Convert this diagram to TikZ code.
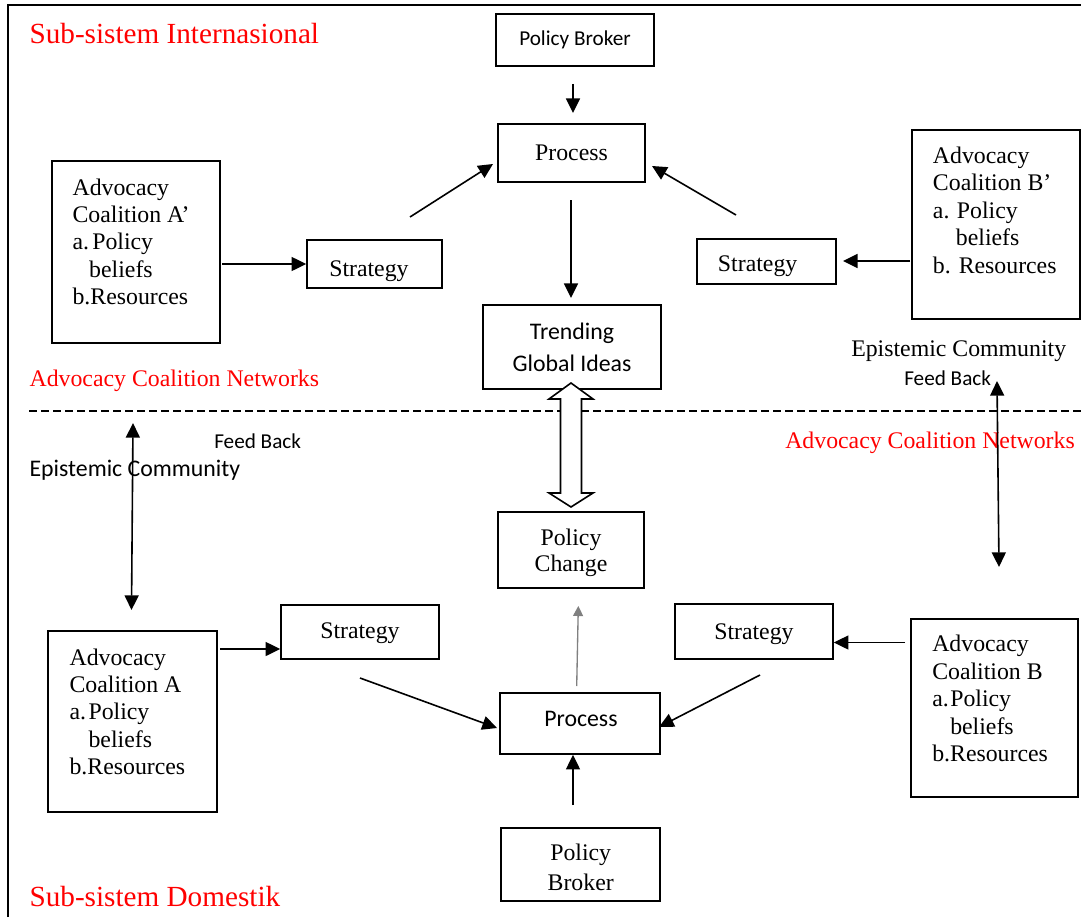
\documentclass[tikz,border=0pt]{standalone}
\usepackage{fontspec}
\setmainfont{Liberation Serif}
\newfontfamily\calib{Carlito}
\usetikzlibrary{arrows.meta}
\begin{document}
\begin{tikzpicture}[x=0.75pt,y=-0.75pt,
  box/.style={draw, line width=1.2pt, inner sep=0pt, align=center},
  sz/.style 2 args={minimum width=#1*0.75pt, minimum height=#2*0.75pt},
  body/.style={font=\fontsize{17.85pt}{20.6pt}\selectfont},
  cbody/.style={font=\calib\fontsize{17.85pt}{23.8pt}\selectfont},
  csmall/.style={font=\calib\fontsize{15.9pt}{19pt}\selectfont},
  txt/.style={anchor=base west, inner sep=0pt},
  ctxt/.style={anchor=base, inner sep=0pt},
  redhead/.style={txt, text=red, font=\fontsize{21.9pt}{26pt}\selectfont},
  redsub/.style={txt, text=red, font=\fontsize{17.85pt}{20.6pt}\selectfont},
  list/.style={txt, font=\fontsize{17.85pt}{20.6pt}\selectfont},
  arr/.style={-{Triangle[length=11pt,width=10.5pt]}, line width=1.2pt},
  darr/.style={{Triangle[length=11pt,width=10.5pt]}-{Triangle[length=11pt,width=10.5pt]}, line width=1.2pt},
  garr/.style={-{Triangle[length=7.5pt,width=7.5pt]}, line width=1pt, draw=gray, color=gray},
]
\useasboundingbox (0,0) rectangle (1081,917);
% frame
\draw[line width=2.2pt] (8,917) -- (8,5) -- (1081,5);
% dashed separator
\draw[line width=1.2pt, dash pattern=on 6pt off 3pt] (29,411) -- (1081,411);

% red headings
\node[redhead] (hInt) at (29.3,43.3) {Sub-sistem Internasional};
\node[redhead] (hDom) at (29.3,906.7) {Sub-sistem Domestik};
\node[redsub] (acnL) at (29.3,386) {Advocacy Coalition Networks};
\node[redsub] (acnR) at (785,448.3) {Advocacy Coalition Networks};

% other free texts
\node[list] (ecR) at (851,356.7) {Epistemic Community};
\node[txt, csmall] (fbR) at (904,385) {Feed Back};
\node[txt, csmall] (fbL) at (214,448.3) {Feed Back};
\node[txt, cbody] (ecL) at (29.3,476.7) {Epistemic Community};

% boxes - upper
\node[box, sz={158}{52}, csmall] (pbT) at (575,40) {Policy Broker};
\node[box, sz={147}{58}, body] (prT) at (571.5,153) {Process};
\node[box, sz={168}{182}] (acAp) at (136,252) {};
\node[box, sz={135}{48}] (sTL) at (374.5,264) {};
\node[box, sz={139}{45}] (sTR) at (766.5,261.5) {};
\node[box, sz={168}{189}] (acBp) at (996,224.5) {};
\node[box, sz={178}{84}, cbody] (tgi) at (572,347) {Trending\\Global Ideas};
% boxes - lower
\node[box, sz={146}{76}] (pc) at (571,550) {};
\node[box, sz={158}{54}] (sBL) at (360,632) {};
\node[box, sz={158}{55}] (sBR) at (754,631.5) {};
\node[box, sz={169}{181}] (acA) at (132.5,721.5) {};
\node[box, sz={167}{178}] (acB) at (994.5,708) {};
\node[box, sz={160}{61}] (prB) at (580,723.5) {};
\node[box, sz={159}{73}] (pbB) at (580.5,864.5) {};

% texts in boxes
\node[list] (sTLt) at (329,276.7) {Strategy};
\node[list] (sTRt) at (717.7,271.7) {Strategy};
\node[list] (sBLt) at (320,638.3) {Strategy};
\node[list] (sBRt) at (714,639.3) {Strategy};
\node[txt, cbody] (prBt) at (544,726.7) {Process};
\node[ctxt, font=\fontsize{17.85pt}{20pt}\selectfont] (pct) at (571,545) {\begin{tabular}[t]{@{}c@{}}Policy\\Change\end{tabular}};
\node[ctxt, font=\fontsize{17.85pt}{22pt}\selectfont] (pbBt) at (580.7,860.7) {\begin{tabular}[t]{@{}c@{}}Policy\\Broker\end{tabular}};

\node[list] (acApt) at (72.3,195) {\begin{tabular}[t]{@{}l@{}}Advocacy\\Coalition A’\\\makebox[14.8pt][l]{a.}Policy\\\hspace*{12.5pt}beliefs\\b.Resources\end{tabular}};
\node[list] (acBpt) at (932.7,163.3) {\begin{tabular}[t]{@{}l@{}}Advocacy\\Coalition B’\\\makebox[18pt][l]{a.}Policy\\\hspace*{17.25pt}beliefs\\b. Resources\end{tabular}};
\node[list] (acAt) at (69.3,665) {\begin{tabular}[t]{@{}l@{}}Advocacy\\Coalition A\\\makebox[14.25pt][l]{a.}Policy\\\hspace*{14.25pt}beliefs\\b.Resources\end{tabular}};
\node[list] (acBt) at (932,651.7) {\begin{tabular}[t]{@{}l@{}}Advocacy\\Coalition B\\\makebox[13.5pt][l]{a.}Policy\\\hspace*{13.5pt}beliefs\\b.Resources\end{tabular}};

% connector end points
\coordinate (c1a) at (573,84);
\coordinate (c1b) at (573,113);
\coordinate (c2a) at (410,217);
\coordinate (c2b) at (493,164);
\coordinate (c3a) at (736,215);
\coordinate (c3b) at (652,166);
\coordinate (c4a) at (222,264);
\coordinate (c5a) at (910,261);
\coordinate (c5b) at (843,261);
\coordinate (c6a) at (571,200);
\coordinate (c6b) at (571,298);
\coordinate (c8a) at (133,423);
\coordinate (c8b) at (131.5,610);
\coordinate (c9a) at (997,381);
\coordinate (c9b) at (999,567);
\coordinate (c10a) at (220,649);
\coordinate (c11a) at (905,642.5);
\coordinate (c12a) at (360,678);
\coordinate (c12b) at (497,728);
\coordinate (c13a) at (760,675);
\coordinate (c13b) at (659,727);
\coordinate (c14a) at (576.7,686);
\coordinate (c14b) at (578.3,606);
\coordinate (c15a) at (573,805);

% connectors - upper
\draw[arr] (c1a) -- (c1b);
\draw[arr] (c2a) -- (c2b);
\draw[arr] (c3a) -- (c3b);
\draw[arr] (c4a) -- (c4a -| sTL.west);
\draw[arr] (c5a) -- (c5b);
\draw[arr] (c6a) -- (c6b);
% feedback arrows
\draw[darr] (c8a) -- (c8b);
\draw[darr] (c9a) -- (c9b);
% connectors - lower
\draw[arr] (c10a) -- (c10a -| sBL.west);
\draw[arr] (c11a) -- (c11a -| sBR.east);
\draw[arr] (c12a) -- (c12b);
\draw[arr] (c13a) -- (c13b);
\draw[garr] (c14a) -- (c14b);
\draw[arr] (c15a) -- (c15a |- prB.south);

% open double arrow between Trending Global Ideas and Policy Change
\draw[line width=1.2pt, fill=white] (571,383) -- (593,399) -- (581.5,399) -- (581.5,493) -- (593,493) -- (571,507) -- (549,493) -- (560.5,493) -- (560.5,399) -- (549,399) -- cycle;
\end{tikzpicture}
\end{document}
